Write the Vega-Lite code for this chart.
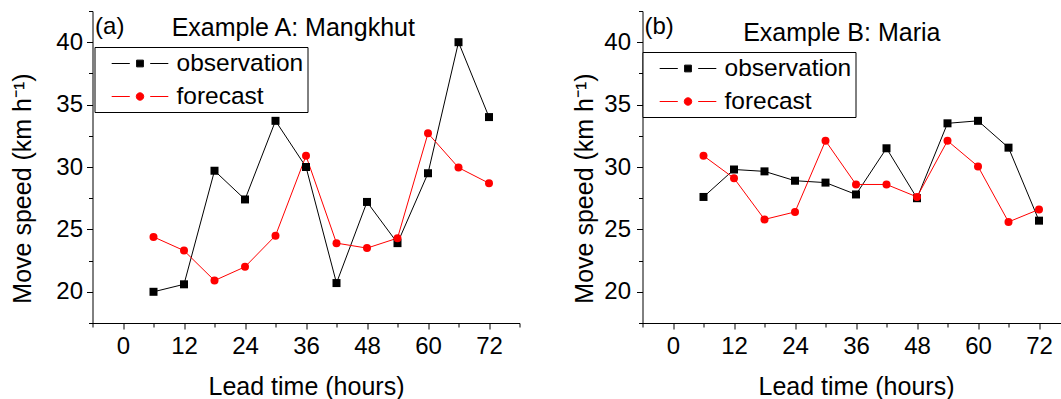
{
  "$schema": "https://vega.github.io/schema/vega-lite/v6.json",
  "padding": {"left": 10.5, "top": 10, "right": 0, "bottom": 0},
  "spacing": 52,
  "resolve": {"scale": {"color": "independent"}, "legend": {"color": "independent"}},
  "config": {
    "view": {"stroke": null},
    "font": "Liberation Sans",
    "axis": {
      "grid": false, "domainColor": "#000000", "domainWidth": 1, "tickColor": "#000000", "tickWidth": 1, "tickSize": 6,
      "labelColor": "#000000", "labelFontSize": 24, "labelFont": "Liberation Sans",
      "titleFont": "Liberation Sans", "titleFontSize": 25, "titleFontWeight": "normal", "titleColor": "#000000",
      "labelOverlap": false, "labelFlush": false, "labelBound": false
    },
    "legend": {
      "title": null, "symbolSize": 576, "symbolOffset": 29, "labelOffset": 24, "padding": 4, "rowPadding": 8,
      "labelFontSize": 24.5, "labelFont": "Liberation Sans", "labelColor": "#000000", "labelLimit": 400,
      "strokeColor": "#000000", "fillColor": "#ffffff"
    }
  },
  "datasets": {
    "a": [
      {"hour": 6, "series": "observation", "speed": 20.0},
      {"hour": 12, "series": "observation", "speed": 20.6},
      {"hour": 18, "series": "observation", "speed": 29.7},
      {"hour": 24, "series": "observation", "speed": 27.4},
      {"hour": 30, "series": "observation", "speed": 33.7},
      {"hour": 36, "series": "observation", "speed": 30.0},
      {"hour": 42, "series": "observation", "speed": 20.7},
      {"hour": 48, "series": "observation", "speed": 27.2},
      {"hour": 54, "series": "observation", "speed": 23.9},
      {"hour": 60, "series": "observation", "speed": 29.5},
      {"hour": 66, "series": "observation", "speed": 40.0},
      {"hour": 72, "series": "observation", "speed": 34.0},
      {"hour": 6, "series": "forecast", "speed": 24.4},
      {"hour": 12, "series": "forecast", "speed": 23.3},
      {"hour": 18, "series": "forecast", "speed": 20.9},
      {"hour": 24, "series": "forecast", "speed": 22.0},
      {"hour": 30, "series": "forecast", "speed": 24.5},
      {"hour": 36, "series": "forecast", "speed": 30.9},
      {"hour": 42, "series": "forecast", "speed": 23.9},
      {"hour": 48, "series": "forecast", "speed": 23.5},
      {"hour": 54, "series": "forecast", "speed": 24.3},
      {"hour": 60, "series": "forecast", "speed": 32.7},
      {"hour": 66, "series": "forecast", "speed": 29.95},
      {"hour": 72, "series": "forecast", "speed": 28.7}
    ],
    "b": [
      {"hour": 6, "series": "observation", "speed": 27.6},
      {"hour": 12, "series": "observation", "speed": 29.8},
      {"hour": 18, "series": "observation", "speed": 29.65},
      {"hour": 24, "series": "observation", "speed": 28.9},
      {"hour": 30, "series": "observation", "speed": 28.75},
      {"hour": 36, "series": "observation", "speed": 27.8},
      {"hour": 42, "series": "observation", "speed": 31.5},
      {"hour": 48, "series": "observation", "speed": 27.5},
      {"hour": 54, "series": "observation", "speed": 33.5},
      {"hour": 60, "series": "observation", "speed": 33.7},
      {"hour": 66, "series": "observation", "speed": 31.55},
      {"hour": 72, "series": "observation", "speed": 25.7},
      {"hour": 6, "series": "forecast", "speed": 30.9},
      {"hour": 12, "series": "forecast", "speed": 29.1},
      {"hour": 18, "series": "forecast", "speed": 25.8},
      {"hour": 24, "series": "forecast", "speed": 26.4},
      {"hour": 30, "series": "forecast", "speed": 32.1},
      {"hour": 36, "series": "forecast", "speed": 28.6},
      {"hour": 42, "series": "forecast", "speed": 28.6},
      {"hour": 48, "series": "forecast", "speed": 27.6},
      {"hour": 54, "series": "forecast", "speed": 32.1},
      {"hour": 60, "series": "forecast", "speed": 30.05},
      {"hour": 66, "series": "forecast", "speed": 25.6},
      {"hour": 72, "series": "forecast", "speed": 26.6}
    ]
  },
  "hconcat": [
    {
      "width": 427, "height": 312,
      "resolve": {"axis": {"x": "independent", "y": "independent"}},
      "layer": [
        {
          "data": {"name": "a"},
          "mark": {"type": "line", "strokeWidth": 1},
          "encoding": {
            "x": {"field": "hour", "type": "quantitative", "title": "Lead time (hours)", "scale": {"domain": [-6, 78], "nice": false, "zero": false},
              "axis": {"orient": "bottom", "values": [0, 12, 24, 36, 48, 60, 72], "labelPadding": 5, "titlePadding": 16}},
            "y": {"field": "speed", "type": "quantitative", "title": "Move speed (km h⁻¹)", "scale": {"domain": [17.5, 42.5], "nice": false, "zero": false},
              "axis": {"orient": "left", "values": [20, 25, 30, 35, 40], "labelPadding": 4, "titlePadding": 20, "titleY": 177}},
            "color": {"field": "series", "type": "nominal", "scale": {"domain": ["observation", "forecast"], "range": ["#000000", "#ff0000"]},
              "legend": {"orient": "none", "legendX": 2, "legendY": 36,
                "labelExpr": "datum.label + '\u00a0\u00a0'",
                "encode": {"symbols": {"update": {
                  "shape": {"signal": "datum.value === 'observation' ? 'M-2.36,0H-0.85M0.85,0H2.36M-0.28,-0.28H0.28V0.28H-0.28Z' : 'M-2.36,0H-0.85M0.85,0H2.36M0.31,0A0.31,0.31,0,1,1,-0.31,0A0.31,0.31,0,1,1,0.31,0Z'"},
                  "fill": {"signal": "datum.value === 'observation' ? '#000000' : '#ff0000'"},
                  "strokeWidth": {"value": 1}, "opacity": {"value": 1}}}}}}
          }
        },
        {
          "data": {"name": "a"},
          "transform": [{"filter": {"field": "series", "equal": "observation"}}],
          "mark": {"type": "point", "shape": "square", "filled": true, "size": 64, "opacity": 1, "color": "#000000"},
          "encoding": {
            "x": {"field": "hour", "type": "quantitative",
              "axis": {"orient": "bottom", "values": [-6, 6, 18, 30, 42, 54, 66, 78], "labels": false, "domain": false, "tickSize": 4, "title": null}},
            "y": {"field": "speed", "type": "quantitative",
              "axis": {"orient": "left", "values": [17.5, 22.5, 27.5, 32.5, 37.5, 42.5], "labels": false, "domain": false, "tickSize": 4, "title": null}}
          }
        },
        {
          "data": {"name": "a"},
          "transform": [{"filter": {"field": "series", "equal": "forecast"}}],
          "mark": {"type": "point", "shape": "circle", "filled": true, "size": 64, "opacity": 1, "color": "#ff0000"},
          "encoding": {
            "x": {"field": "hour", "type": "quantitative", "axis": null},
            "y": {"field": "speed", "type": "quantitative", "axis": null}
          }
        },
        {
          "data": {"values": [{"label": "(a)"}]},
          "mark": {"type": "text", "align": "left", "baseline": "alphabetic", "fontSize": 24, "font": "Liberation Sans", "color": "#000000"},
          "encoding": {
            "x": {"datum": -5.5, "type": "quantitative", "axis": null},
            "y": {"datum": 40.63, "type": "quantitative", "axis": null},
            "text": {"field": "label"}
          }
        },
        {
          "data": {"values": [{"label": "Example A: Mangkhut"}]},
          "mark": {"type": "text", "align": "center", "baseline": "alphabetic", "fontSize": 25, "font": "Liberation Sans", "color": "#000000"},
          "encoding": {
            "x": {"datum": 33.5, "type": "quantitative", "axis": null},
            "y": {"datum": 40.5, "type": "quantitative", "axis": null},
            "text": {"field": "label"}
          }
        }
      ]
    },
    {
      "width": 427, "height": 312,
      "resolve": {"axis": {"x": "independent", "y": "independent"}},
      "layer": [
        {
          "data": {"name": "b"},
          "mark": {"type": "line", "strokeWidth": 1},
          "encoding": {
            "x": {"field": "hour", "type": "quantitative", "title": "Lead time (hours)", "scale": {"domain": [-6, 78], "nice": false, "zero": false},
              "axis": {"orient": "bottom", "values": [0, 12, 24, 36, 48, 60, 72], "labelPadding": 5, "titlePadding": 16}},
            "y": {"field": "speed", "type": "quantitative", "title": "Move speed (km h⁻¹)", "scale": {"domain": [17.5, 42.5], "nice": false, "zero": false},
              "axis": {"orient": "left", "values": [20, 25, 30, 35, 40], "labelPadding": 6, "titlePadding": 6, "titleY": 177}},
            "color": {"field": "series", "type": "nominal", "scale": {"domain": ["observation", "forecast"], "range": ["#000000", "#ff0000"]},
              "legend": {"orient": "none", "legendX": 0, "legendY": 41,
                "labelExpr": "datum.label + '\u00a0\u00a0'",
                "encode": {"symbols": {"update": {
                  "shape": {"signal": "datum.value === 'observation' ? 'M-2.36,0H-0.85M0.85,0H2.36M-0.28,-0.28H0.28V0.28H-0.28Z' : 'M-2.36,0H-0.85M0.85,0H2.36M0.31,0A0.31,0.31,0,1,1,-0.31,0A0.31,0.31,0,1,1,0.31,0Z'"},
                  "fill": {"signal": "datum.value === 'observation' ? '#000000' : '#ff0000'"},
                  "strokeWidth": {"value": 1}, "opacity": {"value": 1}}}}}}
          }
        },
        {
          "data": {"name": "b"},
          "transform": [{"filter": {"field": "series", "equal": "observation"}}],
          "mark": {"type": "point", "shape": "square", "filled": true, "size": 64, "opacity": 1, "color": "#000000"},
          "encoding": {
            "x": {"field": "hour", "type": "quantitative",
              "axis": {"orient": "bottom", "values": [-6, 6, 18, 30, 42, 54, 66, 78], "labels": false, "domain": false, "tickSize": 4, "title": null}},
            "y": {"field": "speed", "type": "quantitative",
              "axis": {"orient": "left", "values": [17.5, 22.5, 27.5, 32.5, 37.5, 42.5], "labels": false, "domain": false, "tickSize": 4, "title": null}}
          }
        },
        {
          "data": {"name": "b"},
          "transform": [{"filter": {"field": "series", "equal": "forecast"}}],
          "mark": {"type": "point", "shape": "circle", "filled": true, "size": 64, "opacity": 1, "color": "#ff0000"},
          "encoding": {
            "x": {"field": "hour", "type": "quantitative", "axis": null},
            "y": {"field": "speed", "type": "quantitative", "axis": null}
          }
        },
        {
          "data": {"values": [{"label": "(b)"}]},
          "mark": {"type": "text", "align": "left", "baseline": "alphabetic", "fontSize": 24, "font": "Liberation Sans", "color": "#000000"},
          "encoding": {
            "x": {"datum": -5.6, "type": "quantitative", "axis": null},
            "y": {"datum": 40.63, "type": "quantitative", "axis": null},
            "text": {"field": "label"}
          }
        },
        {
          "data": {"values": [{"label": "Example B: Maria"}]},
          "mark": {"type": "text", "align": "center", "baseline": "alphabetic", "fontSize": 25, "font": "Liberation Sans", "color": "#000000"},
          "encoding": {
            "x": {"datum": 33.2, "type": "quantitative", "axis": null},
            "y": {"datum": 40.06, "type": "quantitative", "axis": null},
            "text": {"field": "label"}
          }
        }
      ]
    }
  ]
}
